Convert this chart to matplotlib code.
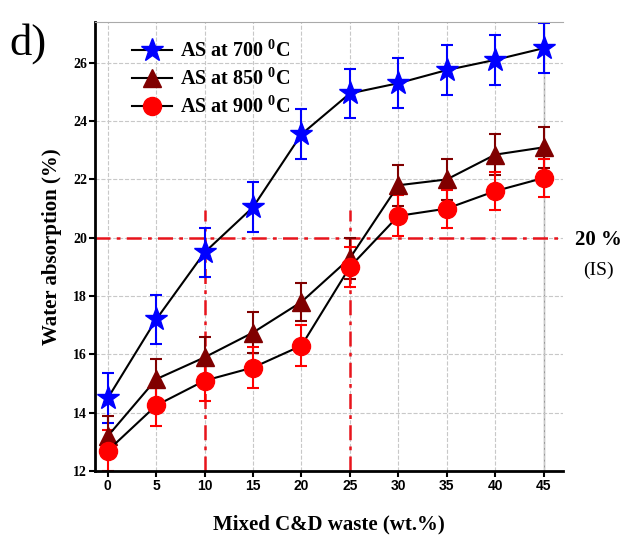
import numpy as np
import matplotlib.pyplot as plt

# Mixed C&D waste content (wt.%)
waste = [0, 5, 10, 15, 20, 25, 30, 35, 40, 45]

# water absorption (%) for the three firing temperatures
wa_700 = [14.5, 17.2, 19.5, 21.05, 23.55, 24.95, 25.3, 25.75, 26.1, 26.5]
err_700 = [0.85, 0.85, 0.85, 0.85, 0.85, 0.85, 0.85, 0.85, 0.85, 0.85]
wa_850 = [13.2, 15.15, 15.9, 16.75, 17.8, 19.3, 21.8, 22.0, 22.85, 23.1]
err_850 = [0.7, 0.7, 0.7, 0.7, 0.65, 0.7, 0.7, 0.7, 0.7, 0.7]
wa_900 = [12.7, 14.25, 15.1, 15.55, 16.3, 19.0, 20.75, 21.0, 21.6, 22.05]
err_900 = [0.7, 0.7, 0.7, 0.7, 0.7, 0.7, 0.7, 0.65, 0.65, 0.65]

labels = ['AS at 700 $^0$C', 'AS at 850 $^0$C', 'AS at 900 $^0$C']

# IS limit and reference contents
limit = 20
ref_x = [10, 25]

plt.rcParams['font.family'] = 'Liberation Serif'
plt.rcParams['mathtext.fontset'] = 'custom'
plt.rcParams['mathtext.rm'] = 'Liberation Serif:bold'

fig = plt.figure(figsize=(6.39, 5.49), dpi=100)
ax = fig.add_axes([0.149, 0.142, 0.732, 0.818])

ax.set_xlim(-1.3, 47)
ax.set_ylim(12, 27.4)

# reference lines
dashdot = (0, (6, 2.5, 1.5, 2.5))
ax.axhline(limit, color='#e8141c', ls=dashdot, lw=1.8, zorder=1.8)
for xr in ref_x:
    ax.plot([xr, xr], [12, 20.95], color='#e8141c', ls=dashdot, lw=1.8, zorder=1.8)

series = [
    (wa_700, err_700, '*', 'blue', 17),
    (wa_850, err_850, '^', '#800000', 13),
    (wa_900, err_900, 'o', 'red', 13),
]
for (vals, errs, mk, col, ms), lab in zip(series, labels):
    ax.errorbar(waste, vals, yerr=errs, fmt='none', ecolor=col, elinewidth=1.5,
                capsize=4, capthick=1.5, zorder=2)
    ax.plot(waste, vals, color='black', lw=1.5, marker=mk, markersize=ms,
            markerfacecolor=col, markeredgecolor=col, label=lab, zorder=3)

ax.set_xticks(waste)
ax.set_yticks([12, 14, 16, 18, 20, 22, 24, 26])
ax.grid(True, ls='--', color='#c8c8c8', lw=0.8)
ax.axvline(45, color='#999999', lw=1, zorder=0)

for lab in ax.get_xticklabels():
    lab.set_family('Liberation Sans')
    lab.set_fontweight('bold')
    lab.set_fontsize(10)
for lab in ax.get_yticklabels():
    lab.set_fontweight('bold')
    lab.set_fontsize(10)

ax.spines['right'].set_visible(False)
ax.spines['top'].set_color('#aaaaaa')
ax.spines['left'].set_linewidth(2)
ax.spines['bottom'].set_linewidth(2)
ax.tick_params(direction='out', width=1.5, length=4, pad=2)

ax.set_xlabel('Mixed C&D waste (wt.%)', fontsize=15, fontweight='bold', labelpad=15)
ax.set_ylabel('Water absorption (%)', fontsize=15, fontweight='bold', labelpad=8)

leg = ax.legend(loc='upper left', bbox_to_anchor=(0.04, 1.0), frameon=False,
                prop={'family': 'Liberation Serif', 'weight': 'bold', 'size': 14.5},
                handlelength=2.0, handletextpad=0.4, labelspacing=0.3)

fig.text(0.015, 0.9, 'd)', fontsize=32, family='Liberation Serif')
fig.text(0.936, 0.563, '20 %', fontsize=15, fontweight='bold', ha='center', va='center')
fig.text(0.936, 0.508, '(IS)', fontsize=14, ha='center', va='center')

fig.savefig('out.png', dpi=100)
